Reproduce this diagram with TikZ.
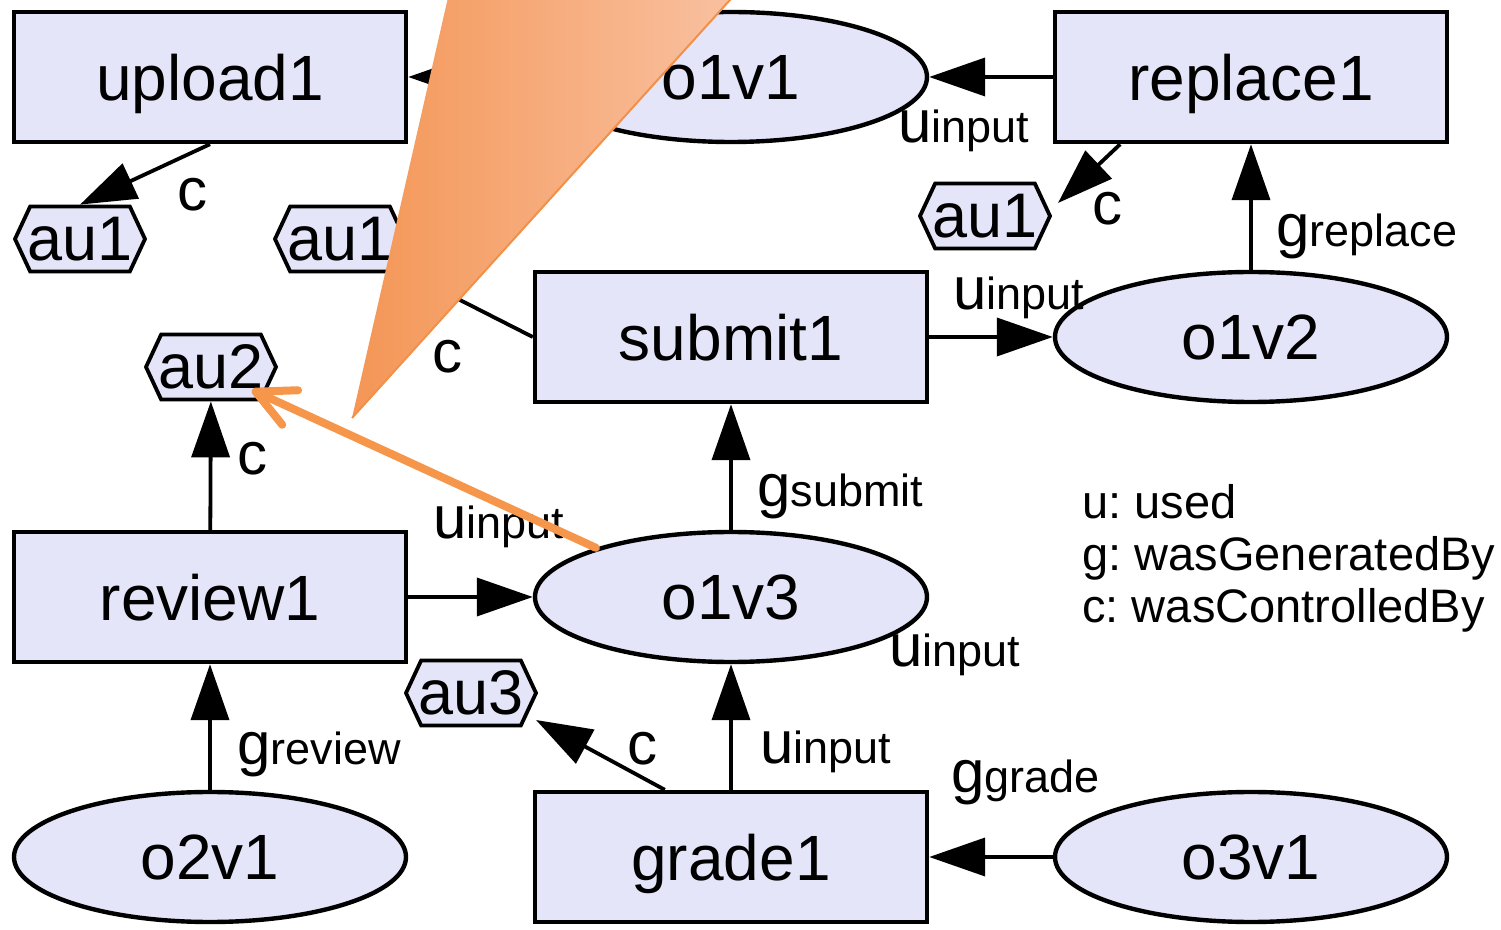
\documentclass[tikz,border=0pt]{standalone}
\usepackage{fontspec}
\setmainfont{Liberation Sans}
\usetikzlibrary{arrows.meta,shapes.geometric,shapes.symbols,calc}
\definecolor{lav}{RGB}{229,229,250}
\definecolor{orA}{RGB}{244,150,86}
\definecolor{orB}{RGB}{249,194,163}
\definecolor{orLine}{RGB}{242,144,72}
\definecolor{orArrow}{RGB}{245,150,75}
\newcommand{\elab}[2]{{\fontsize{30}{34}\selectfont #1}{\fontsize{22.5}{26}\selectfont #2}}
\frenchspacing
\begin{document}
\begin{tikzpicture}[x=0.5pt,y=-0.5pt,
  procbox/.style={draw, line width=2.2pt, fill=lav, rectangle, minimum width=196pt, minimum height=65pt, inner sep=0pt, text depth=0pt, font=\fontsize{32}{36}\selectfont},
  artbox/.style={draw, line width=2.2pt, fill=lav, ellipse, minimum width=196pt, minimum height=65pt, inner sep=0pt, text depth=0pt, font=\fontsize{32}{36}\selectfont},
  agentbox/.style={draw, line width=1.9pt, fill=lav, signal, signal to=east and west, signal pointer angle=130, minimum width=65pt, minimum height=32.5pt, inner xsep=-2pt, inner ysep=0pt, text depth=0pt, font=\fontsize{31.5}{34}\selectfont},
  edge/.style={line width=1.9pt, -{Triangle[length=28pt,width=19pt]}},
  elabel/.style={anchor=base west, inner sep=0pt},
  legend/.style={anchor=base west, inner sep=0pt, font=\fontsize{23.5}{26}\selectfont}]
\useasboundingbox (0,0) rectangle (1501,930);
% nodes
\node[procbox] (upload1) at (210,77) {upload1};
\node[artbox] (o1v1) at (731,77) {o1v1};
\node[procbox] (replace1) at (1251,77) {replace1};
\node[agentbox] (au1L) at (80,239) {au1};
\node[agentbox] (au1M) at (340,239) {au1};
\node[agentbox] (au1R) at (985,216) {au1};
\node[procbox] (submit1) at (731,337) {submit1};
\node[artbox] (o1v2) at (1251,337) {o1v2};
\node[agentbox] (au2) at (211,367) {au2};
\node[procbox] (review1) at (210,597) {review1};
\node[artbox] (o1v3) at (731,597) {o1v3};
\node[agentbox] (au3) at (471,693) {au3};
\node[artbox] (o2v1) at (210,857) {o2v1};
\node[procbox] (grade1) at (731,857) {grade1};
\node[artbox] (o3v1) at (1251,857) {o3v1};
% connectors
\draw[edge] (replace1) -- (o1v1);
\draw[edge] (o1v1) -- (upload1);
\draw[edge] (upload1.south) -- (au1L.north);
\draw[edge] ($(replace1.south west)!0.17!(replace1.south east)$) -- ([shift={(73,-13)}]au1R.center);
\draw[edge] (o1v2) -- (replace1);
\draw[edge] (submit1) -- (o1v2);
\draw[edge] (submit1.west) -- (au1M);
\draw[edge] (o1v3) -- (submit1);
\draw[edge] (review1) -- (au2);
\draw[edge] (review1) -- (o1v3);
\draw[edge] (o2v1) -- (review1);
\draw[edge] (grade1) -- (o1v3);
\draw[edge] ($(grade1.north west)!0.333!(grade1.north east)$) -- ([shift={(65,27)}]au3.center);
\draw[edge] (o3v1) -- (grade1);
% edge labels
\node[elabel] (l1) at (898,143) {\elab{u}{input}};
\node[elabel] (l2) at (177,211) {\elab{c}{}};
\node[elabel] (l3) at (1092,225) {\elab{c}{}};
\node[elabel] (l4) at (1276,247) {\elab{g}{replace}};
\node[elabel] (l5) at (953,310) {\elab{u}{input}};
\node[elabel] (l6) at (432,373) {\elab{c}{}};
\node[elabel] (l7) at (237,475) {\elab{c}{}};
\node[elabel] (l8) at (757,507) {\elab{g}{submit}};
\node[elabel] (l9) at (433,539) {\elab{u}{input}};
\node[elabel] (l10) at (889,667) {\elab{u}{input}};
\node[elabel] (l11) at (237,764) {\elab{g}{review}};
\node[elabel] (l12) at (627,764) {\elab{c}{}};
\node[elabel] (l13) at (760,763) {\elab{u}{input}};
\node[elabel] (l14) at (951,792) {\elab{g}{grade}};
% legend
\node[legend] (lg1) at (1082,519) {u: used};
\node[legend] (lg2) at (1082,571) {g: wasGeneratedBy};
\node[legend] (lg3) at (1082,623) {c: wasControlledBy};
% orange overlay
\begin{scope}
\clip (0,0) rectangle (1501,930);
\shade[left color=orA, right color=orB] (352,418) -- (452,-20) -- (748,-20) -- cycle;
\draw[orLine, line width=1pt] (352,418) -- (748,-20);
\end{scope}
\draw[orArrow, line width=4pt, line cap=round, -{Straight Barb[length=19pt,width=19pt,round]}] (o1v3.160) -- ([shift={(41,23)}]au2.center);
\end{tikzpicture}
\end{document}
